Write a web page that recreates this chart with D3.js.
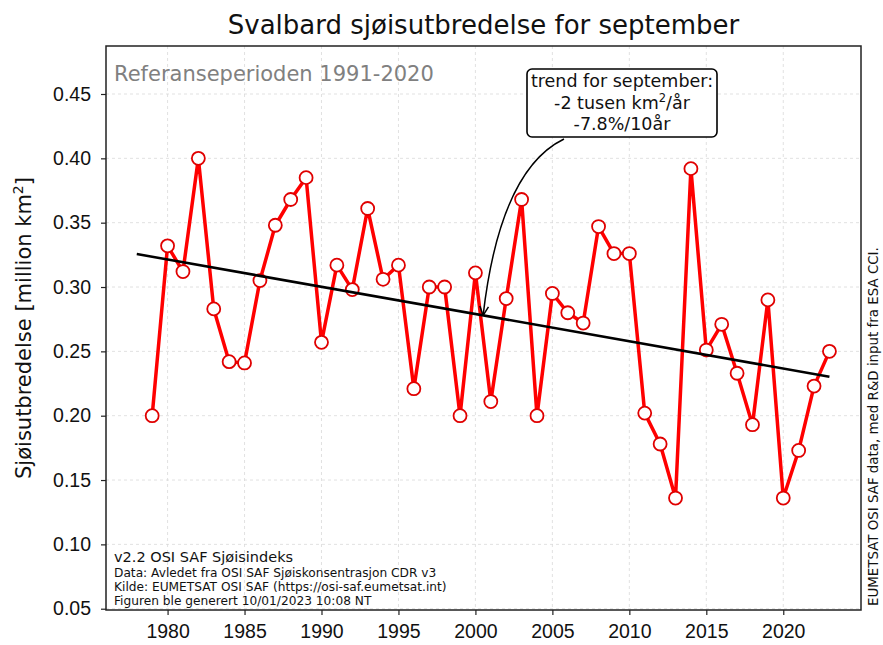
<!DOCTYPE html>
<html>
<head>
<meta charset="utf-8">
<script src="https://cdn.jsdelivr.net/npm/d3@7"></script>
<style>
  body { margin: 0; background: #fff; }
  svg { font-family: "DejaVu Sans", sans-serif; }
  .grid line { stroke: #d9d9d9; stroke-dasharray: 3,3; stroke-width: 0.8; }
  .axis path, .axis line { stroke: #222; stroke-width: 1.2; }
  .axis text { fill: #111; font-size: 19.5px; }
</style>
</head>
<body>
<div id="charte"></div>
<script>
// Donnees - sjoisutbredelse september, Svalbard
const annees = [1979, 1980, 1981, 1982, 1983, 1984, 1985, 1986, 1987, 1988,
  1989, 1990, 1991, 1992, 1993, 1994, 1995, 1996, 1997, 1998,
  1999, 2000, 2001, 2002, 2003, 2004, 2005, 2006, 2007, 2008,
  2009, 2010, 2011, 2012, 2013, 2014, 2015, 2016, 2017, 2018,
  2019, 2020, 2021, 2022, 2023];
const utbredelse = [0.200, 0.332, 0.312, 0.400, 0.283, 0.242, 0.241, 0.305, 0.348, 0.368,
  0.385, 0.257, 0.317, 0.298, 0.361, 0.306, 0.317, 0.221, 0.300, 0.300,
  0.200, 0.311, 0.211, 0.291, 0.368, 0.200, 0.295, 0.280, 0.272, 0.347,
  0.326, 0.326, 0.202, 0.178, 0.136, 0.392, 0.251, 0.271, 0.233, 0.193,
  0.290, 0.136, 0.173, 0.223, 0.250];

// Trendlinje (endepunkter)
const trendAnnees = [1978, 2023];
const trendValeurs = [0.3256, 0.2303];

const xTicks = [1980, 1985, 1990, 1995, 2000, 2005, 2010, 2015, 2020];
const yTicks = [0.05, 0.10, 0.15, 0.20, 0.25, 0.30, 0.35, 0.40, 0.45];

const annotationAnnee = 2000.5;
const annotationLignes = ['trend for september:', '-2 tusen km²/år', '-7.8%/10år'];

const notesBas = [
  'Data: Avledet fra OSI SAF Sjøiskonsentrasjon CDR v3',
  'Kilde: EUMETSAT OSI SAF (https://osi-saf.eumetsat.int)',
  'Figuren ble generert 10/01/2023 10:08 NT'
];

// Dimensions
const largeur = 883, hauteur = 645;
const margin = {top: 46, right: 22, bottom: 35, left: 106};
const w = largeur - margin.left - margin.right;
const h = hauteur - margin.top - margin.bottom;

const svg = d3.select('#charte').append('svg')
  .attr('width', largeur)
  .attr('height', hauteur);

const g = svg.append('g')
  .attr('transform', 'translate(' + margin.left + ',' + margin.top + ')');

const x = d3.scaleLinear().domain([1976, 2025.05]).range([0, w]);
const y = d3.scaleLinear().domain([0.049, 0.4873]).range([h, 0]);

// Grille
const grille = g.append('g').attr('class', 'grid');
grille.selectAll('line.vx').data(xTicks).enter().append('line')
  .attr('x1', d => x(d)).attr('x2', d => x(d))
  .attr('y1', 0).attr('y2', h);
grille.selectAll('line.hy').data(yTicks).enter().append('line')
  .attr('x1', 0).attr('x2', w)
  .attr('y1', d => y(d)).attr('y2', d => y(d));

// Serie
const donnees = annees.map((a, i) => ({annee: a, valeur: utbredelse[i]}));

const ligne = d3.line()
  .x(d => x(d.annee))
  .y(d => y(d.valeur));

g.append('path')
  .datum(donnees)
  .attr('fill', 'none')
  .attr('stroke', '#ff0000')
  .attr('stroke-width', 3.5)
  .attr('stroke-linejoin', 'round')
  .attr('d', ligne);

g.selectAll('circle.pt').data(donnees).enter().append('circle')
  .attr('cx', d => x(d.annee))
  .attr('cy', d => y(d.valeur))
  .attr('r', 6.5)
  .attr('fill', '#fff')
  .attr('stroke', '#e00000')
  .attr('stroke-width', 1.8);

// Trend
const trend = trendAnnees.map((a, i) => ({annee: a, valeur: trendValeurs[i]}));
g.append('path')
  .datum(trend)
  .attr('fill', 'none')
  .attr('stroke', '#000')
  .attr('stroke-width', 2.6)
  .attr('d', ligne);

// Axes
g.append('g')
  .attr('class', 'x axis')
  .attr('transform', 'translate(0,' + h + ')')
  .call(d3.axisBottom(x).tickValues(xTicks).tickFormat(d3.format('d')).tickSize(5).tickPadding(9))
  .call(a => a.select('.domain').remove());

g.append('g')
  .attr('class', 'y axis')
  .call(d3.axisLeft(y).tickValues(yTicks).tickFormat(d3.format('.2f')).tickSize(5).tickPadding(10))
  .call(a => a.select('.domain').remove());

// Cadre
g.append('rect')
  .attr('x', 0).attr('y', 0).attr('width', w).attr('height', h)
  .attr('fill', 'none').attr('stroke', '#222').attr('stroke-width', 1.5);

// Titre
svg.append('text')
  .attr('x', margin.left + w / 2).attr('y', 34)
  .attr('text-anchor', 'middle')
  .attr('font-size', 26)
  .attr('fill', '#111')
  .text('Svalbard sjøisutbredelse for september');

// Label ordonnee
const ylab = svg.append('text')
  .attr('transform', 'translate(31,' + (margin.top + h / 2) + ') rotate(-90)')
  .attr('text-anchor', 'middle')
  .attr('font-size', 21)
  .attr('fill', '#111');
ylab.append('tspan').text('Sjøisutbredelse [million km');
ylab.append('tspan').attr('dy', -8).attr('font-size', 14).text('2');
ylab.append('tspan').attr('dy', 8).text(']');

// Referanseperioden
g.append('text')
  .attr('x', 8).attr('y', 35)
  .attr('font-size', 21)
  .attr('fill', '#808080')
  .text('Referanseperioden 1991-2020');

// Notes en bas
g.append('text')
  .attr('x', 8).attr('y', h - 48)
  .attr('font-size', 14.5)
  .attr('fill', '#111')
  .text('v2.2 OSI SAF Sjøisindeks');
g.selectAll('text.note').data(notesBas).enter().append('text')
  .attr('x', 8)
  .attr('y', (d, i) => h - 33 + i * 13.8)
  .attr('font-size', 12.2)
  .attr('fill', '#111')
  .text(d => d);

// Texte vertical a droite
svg.append('text')
  .attr('transform', 'translate(878,606) rotate(-90)')
  .attr('font-size', 13.4)
  .attr('fill', '#111')
  .text('EUMETSAT OSI SAF data, med R&D input fra ESA CCI.');

// Annotation trend
const ax = x(annotationAnnee);
const trendAt = d3.scaleLinear().domain(trendAnnees).range(trendValeurs);
const ay = y(trendAt(annotationAnnee));

const boite = {x: 527 - margin.left, y: 69 - margin.top, w: 190, h: 68};
const debut = [boite.x + 37, boite.y + boite.h + 2];
const ctrl = [500 - margin.left, 170 - margin.top];

g.append('path')
  .attr('d', 'M' + debut[0] + ',' + debut[1] + ' Q' + ctrl[0] + ',' + ctrl[1] + ' ' + ax + ',' + ay)
  .attr('fill', 'none')
  .attr('stroke', '#000')
  .attr('stroke-width', 1.5);

// pointe de fleche (ouverte)
const ang = Math.atan2(ay - ctrl[1], ax - ctrl[0]);
const lng = 10;
[-0.45, 0.45].forEach(da => {
  g.append('line')
    .attr('x1', ax).attr('y1', ay)
    .attr('x2', ax - lng * Math.cos(ang + da))
    .attr('y2', ay - lng * Math.sin(ang + da))
    .attr('stroke', '#000')
    .attr('stroke-width', 1.5);
});

g.append('rect')
  .attr('x', boite.x).attr('y', boite.y)
  .attr('width', boite.w).attr('height', boite.h)
  .attr('rx', 5)
  .attr('fill', '#fff')
  .attr('stroke', '#000')
  .attr('stroke-width', 1.6);

const txt = g.append('text')
  .attr('text-anchor', 'middle')
  .attr('font-size', 17.5)
  .attr('fill', '#111');
const cx = boite.x + boite.w / 2;
txt.append('tspan').attr('x', cx).attr('y', boite.y + 18).text(annotationLignes[0]);
const l2 = txt.append('tspan').attr('x', cx).attr('y', boite.y + 40);
l2.append('tspan').text('-2 tusen km');
l2.append('tspan').attr('dy', -7).attr('font-size', 11.5).text('2');
l2.append('tspan').attr('dy', 7).text('/år');
txt.append('tspan').attr('x', cx).attr('y', boite.y + 61).text(annotationLignes[2]);
</script>
</body>
</html>
